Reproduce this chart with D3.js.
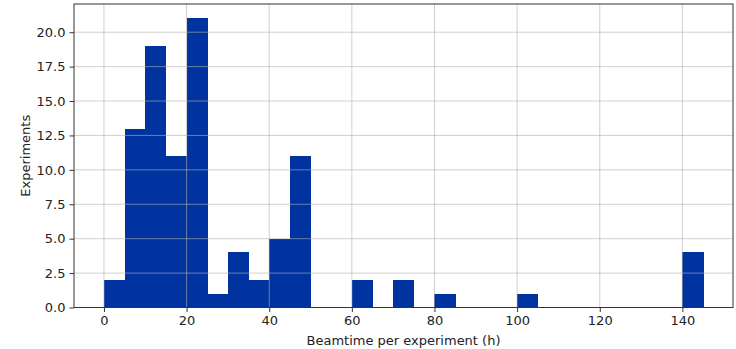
<!DOCTYPE html>
<html>
<head>
<meta charset="utf-8">
<script src="https://cdn.jsdelivr.net/npm/d3@7"></script>
<style>
  body { margin: 0; background: #fff; }
  svg { font-family: "DejaVu Sans", sans-serif; }
</style>
</head>
<body>
<div id="chart"></div>
<script>
// histogram bins (h), width 5
const binStarts = [0,5,10,15,20,25,30,35,40,45,50,55,60,65,70,75,80,85,90,95,100,105,110,115,120,125,130,135,140];
const binWidth = 5;
const counts = [2,13,19,11,21,1,4,2,5,11,0,0,2,0,2,0,1,0,0,0,1,0,0,0,0,0,0,0,4];
const xTicks = [0,20,40,60,80,100,120,140];
const yTicks = [0,2.5,5,7.5,10,12.5,15,17.5,20];

const width = 736, height = 349;
const margin = { top: 4, right: 3, bottom: 41.5, left: 74 };

const svg = d3.select('#chart').append('svg')
  .attr('width', width)
  .attr('height', height);

const x = d3.scaleLinear().domain([-7.25, 152.25]).range([margin.left, width - margin.right]);
const y = d3.scaleLinear().domain([0, 22.05]).range([height - margin.bottom, margin.top]);

// Bars
svg.append('g')
  .attr('shape-rendering', 'crispEdges')
  .selectAll('rect')
  .data(binStarts.map((s, i) => ({ s, c: counts[i] })).filter(d => d.c > 0))
  .enter()
  .append('rect')
  .attr('x', d => x(d.s))
  .attr('y', d => y(d.c))
  .attr('width', d => x(d.s + binWidth) - x(d.s) + 0.5)
  .attr('height', d => y(0) - y(d.c))
  .attr('fill', '#0033a0');

// Grid (drawn over bars)
const grid = svg.append('g').attr('stroke', '#b0b0b0').attr('stroke-opacity', 0.6).attr('stroke-width', 1);
grid.selectAll('.gx').data(xTicks).enter().append('line')
  .attr('x1', d => x(d)).attr('x2', d => x(d))
  .attr('y1', margin.top).attr('y2', height - margin.bottom);
grid.selectAll('.gy').data(yTicks).enter().append('line')
  .attr('y1', d => y(d)).attr('y2', d => y(d))
  .attr('x1', margin.left).attr('x2', width - margin.right);

// Axes
const xAxis = svg.append('g')
  .attr('transform', `translate(0,${height - margin.bottom})`)
  .call(d3.axisBottom(x).tickValues(xTicks).tickFormat(d3.format('d')).tickSize(4.5).tickPadding(4));
const yAxis = svg.append('g')
  .attr('transform', `translate(${margin.left},0)`)
  .call(d3.axisLeft(y).tickValues(yTicks).tickFormat(d3.format('.1f')).tickSize(4.5).tickPadding(4));

[xAxis, yAxis].forEach(a => {
  a.select('.domain').remove();
  a.selectAll('text').attr('fill', '#222').style('font-size', '13px').style('font-family', '"DejaVu Sans", sans-serif');
  a.selectAll('line').attr('stroke', '#333');
});

// Frame
svg.append('rect')
  .attr('x', margin.left).attr('y', margin.top)
  .attr('width', width - margin.right - margin.left)
  .attr('height', height - margin.bottom - margin.top)
  .attr('fill', 'none').attr('stroke', '#333').attr('stroke-width', 1);

// Labels
svg.append('text')
  .attr('x', (margin.left + width - margin.right) / 2)
  .attr('y', 345)
  .attr('text-anchor', 'middle')
  .attr('fill', '#222')
  .style('font-size', '13px')
  .text('Beamtime per experiment (h)');

svg.append('text')
  .attr('transform', `translate(30,${(margin.top + height - margin.bottom) / 2}) rotate(-90)`)
  .attr('text-anchor', 'middle')
  .attr('fill', '#222')
  .style('font-size', '13px')
  .text('Experiments');
</script>
</body>
</html>
